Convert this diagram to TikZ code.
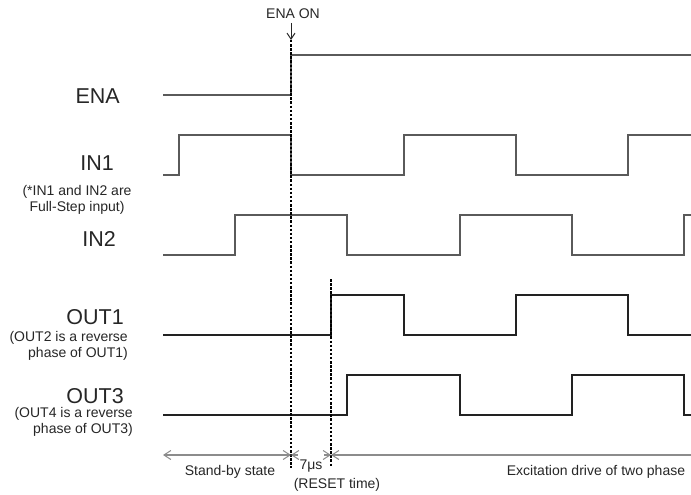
\documentclass[tikz,border=0pt]{standalone}
\usepackage{fontspec}
\setmainfont{Liberation Sans}
\usetikzlibrary{arrows.meta,calc}
\definecolor{txt}{HTML}{262626}
\definecolor{wavein}{HTML}{5A5A5A}
\definecolor{waveout}{HTML}{222222}
\definecolor{arrowgray}{HTML}{8C8C8C}
\tikzset{
  biglabel/.style={font=\fontsize{21.5}{24}\selectfont, text=txt, inner sep=0pt},
  smalllabel/.style={font=\fontsize{14}{16}\selectfont, text=txt, inner sep=0pt, align=right},
  inwave/.style={draw=wavein, line width=1.3pt, line join=miter},
  outwave/.style={draw=waveout, line width=1.7pt, line join=miter},
  marker/.style={draw=black, line width=1.5pt, dash pattern=on 2.5pt off 1.6pt},
  spanarrow/.style={draw=arrowgray, line width=1.1pt},
  barb/.tip={Straight Barb[length=7pt,width=9pt,line width=1pt]}
}
\begin{document}
\begin{tikzpicture}[x=1pt,y=-1pt]
\useasboundingbox (0,0) rectangle (691,495);
% labels
\node[biglabel, anchor=east] (lena) at (120,96) {ENA};
\node[biglabel, anchor=east] (lin1) at (114,163) {IN1};
\node[smalllabel, align=center] (note1) at (77,200) {(*IN1 and IN2 are\\Full-Step input)};
\node[biglabel, anchor=east] (lin2) at (116,239) {IN2};
\node[biglabel, anchor=east] (lout1) at (124,317) {OUT1};
\node[smalllabel, anchor=east] (note2) at (128,346) {(OUT2 is a reverse\\phase of OUT1)};
\node[biglabel, anchor=east] (lout3) at (124,396) {OUT3};
\node[smalllabel, anchor=east] (note3) at (133,422) {(OUT4 is a reverse\\phase of OUT3)};
% waveforms
\draw[inwave] (163,95) -- (291,95) -- (291,55) -- (691,55);
\draw[inwave] (163,175) -- (179,175) -- (179,135) -- (291,135) -- (291,175) -- (404,175) -- (404,135) -- (516,135) -- (516,175) -- (628,175) -- (628,135) -- (691,135);
\draw[inwave] (163,255) -- (235,255) -- (235,215) -- (347,215) -- (347,255) -- (460,255) -- (460,215) -- (572,215) -- (572,255) -- (684,255) -- (684,215) -- (691,215);
\draw[outwave] (163,335) -- (331,335) -- (331,295) -- (404,295) -- (404,335) -- (516,335) -- (516,295) -- (628,295) -- (628,335) -- (691,335);
\draw[outwave] (163,415) -- (347,415) -- (347,375) -- (460,375) -- (460,415) -- (572,415) -- (572,375) -- (684,375) -- (684,415) -- (691,415);
% ENA ON marker
\node[font=\fontsize{14}{16}\selectfont, text=txt, inner sep=0pt] (enaon) at (293,14) {ENA ON};
\coordinate (ontip) at (291,40);
\draw[draw=txt, line width=1pt, -{Straight Barb[length=6pt,width=8pt]}] (291,23) -- (ontip);
\coordinate (d1top) at (291,40);
\coordinate (d1bot) at (291,468);
\coordinate (d2top) at (331,279);
\coordinate (d2bot) at (331,466);
\draw[marker] (d1top) -- (d1bot);
\draw[marker] (d2top) -- (d2bot);
% time spans
\coordinate (s0) at (163,455);
\coordinate (s1) at (291,455);
\coordinate (s2) at (331,455);
\coordinate (s3) at (691,455);
\draw[spanarrow, {barb}-{barb}] (s0) -- (s1);
\draw[spanarrow, {barb}-] (s1) -- ++(7,0);
\draw[spanarrow, -{barb}] ($(s2)+(-7,0)$) -- (s2);
\draw[spanarrow, {barb}-] (s2) -- (s3);
\node[font=\fontsize{14}{16}\selectfont, text=txt, inner sep=0pt] (standby) at (230,472) {Stand-by state};
\node[font=\fontsize{14}{16}\selectfont, text=txt, inner sep=0pt] (tus) at (311,466) {7μs};
\node[font=\fontsize{14}{16}\selectfont, text=txt, inner sep=0pt] (reset) at (337,485) {(RESET time)};
\node[font=\fontsize{14}{16}\selectfont, text=txt, inner sep=0pt] (excite) at (596,472) {Excitation drive of two phase};
\end{tikzpicture}
\end{document}
